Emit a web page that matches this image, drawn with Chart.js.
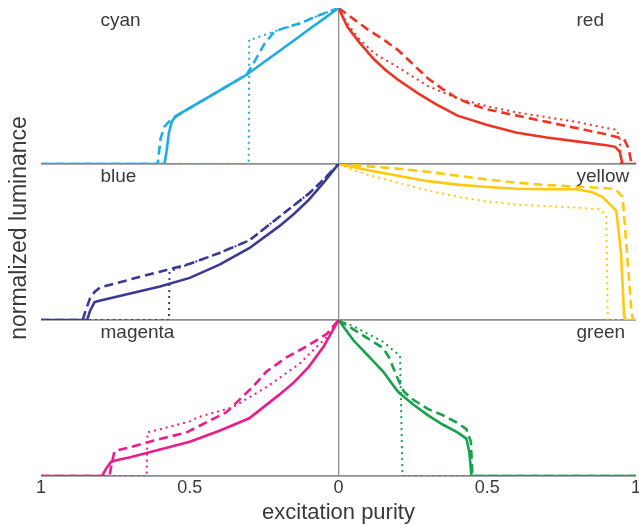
<!DOCTYPE html>
<html>
<head>
<meta charset="utf-8">
<script src="https://cdn.jsdelivr.net/npm/chart.js@4.4.0/dist/chart.umd.min.js"></script>
<style>
  body { margin: 0; background: #fff; }
  canvas { display: block; }
</style>
</head>
<body>
<canvas id="chart" width="639" height="525"></canvas>
<script>
// excitation purity (P) and normalized luminance (L) for each colour / line style
const cyanSolidP = [1, 0.585, 0.578, 0.57, 0.56, 0.545, 0.5, 0.45, 0.4, 0.35, 0.309, 0.25, 0.2, 0.15, 0.1, 0.05, 0];
const cyanSolidL = [0, 0, 0.08, 0.2, 0.275, 0.309, 0.359, 0.415, 0.47, 0.526, 0.572, 0.654, 0.723, 0.792, 0.862, 0.93, 1];
const cyanDashedP = [1, 0.608, 0.603, 0.598, 0.585, 0.561, 0.534, 0.45, 0.4, 0.35, 0.309, 0.282, 0.249, 0.215, 0.17, 0.131, 0.07, 0];
const cyanDashedL = [0, 0, 0.08, 0.164, 0.24, 0.29, 0.32, 0.415, 0.47, 0.526, 0.572, 0.658, 0.77, 0.85, 0.88, 0.9, 0.95, 1];
const cyanDottedP = [1, 0.302, 0.3, 0.29, 0.215, 0.131, 0.07, 0];
const cyanDottedL = [0, 0, 0.8, 0.8, 0.85, 0.9, 0.95, 1];

const redSolidP = [0, 0.03, 0.07, 0.12, 0.16, 0.2, 0.27, 0.33, 0.4, 0.5, 0.6, 0.7, 0.8, 0.9, 0.93, 0.945, 0.955, 1];
const redSolidL = [1, 0.88, 0.78, 0.67, 0.6, 0.54, 0.45, 0.38, 0.31, 0.25, 0.2, 0.17, 0.145, 0.12, 0.11, 0.08, 0, 0];
const redDashedP = [0, 0.05, 0.1, 0.15, 0.2, 0.25, 0.3, 0.35, 0.4, 0.45, 0.5, 0.6, 0.7, 0.8, 0.9, 0.96, 0.975, 0.985, 1];
const redDashedL = [1, 0.93, 0.86, 0.8, 0.73, 0.64, 0.55, 0.48, 0.42, 0.38, 0.35, 0.31, 0.27, 0.23, 0.19, 0.16, 0.1, 0, 0];
const redDottedP = [0, 0.03, 0.07, 0.12, 0.2, 0.3, 0.35, 0.4, 0.45, 0.5, 0.6, 0.7, 0.8, 0.9, 0.935, 0.945, 0.95, 1];
const redDottedL = [1, 0.9, 0.8, 0.71, 0.62, 0.5, 0.46, 0.42, 0.395, 0.37, 0.33, 0.3, 0.27, 0.23, 0.22, 0.16, 0, 0];

const blueSolidP = [1, 0.845, 0.835, 0.82, 0.8, 0.7, 0.6, 0.5, 0.4, 0.3, 0.2, 0.15, 0.1, 0.05, 0];
const blueSolidL = [0, 0, 0.06, 0.115, 0.125, 0.17, 0.215, 0.27, 0.355, 0.46, 0.6, 0.68, 0.77, 0.88, 1];
const blueDashedP = [1, 0.86, 0.85, 0.835, 0.82, 0.8, 0.7, 0.6, 0.5, 0.4, 0.3, 0.2, 0.1, 0.05, 0];
const blueDashedL = [0, 0, 0.06, 0.14, 0.18, 0.21, 0.26, 0.31, 0.36, 0.43, 0.51, 0.66, 0.81, 0.9, 1];
const blueDottedP = [1, 0.57, 0.568, 0.5, 0.4, 0.3, 0.2, 0.1, 0.05, 0];
const blueDottedL = [0, 0, 0.31, 0.36, 0.43, 0.51, 0.66, 0.81, 0.9, 1];

const yellowSolidP = [0, 0.1, 0.2, 0.3, 0.4, 0.5, 0.6, 0.7, 0.8, 0.85, 0.887, 0.934, 0.95, 0.96, 0.965, 1];
const yellowSolidL = [1, 0.96, 0.925, 0.89, 0.868, 0.853, 0.841, 0.838, 0.838, 0.82, 0.79, 0.7, 0.42, 0.03, 0, 0];
const yellowDashedP = [0, 0.1, 0.2, 0.3, 0.4, 0.5, 0.6, 0.7, 0.8, 0.9, 0.93, 0.955, 0.97, 0.985, 0.99, 1];
const yellowDashedL = [1, 0.985, 0.97, 0.95, 0.925, 0.9, 0.88, 0.865, 0.855, 0.845, 0.84, 0.79, 0.42, 0.05, 0, 0];
const yellowDottedP = [0, 0.05, 0.1, 0.2, 0.3, 0.4, 0.5, 0.6, 0.7, 0.8, 0.88, 0.9, 0.905, 1];
const yellowDottedL = [1, 0.96, 0.93, 0.88, 0.83, 0.79, 0.76, 0.74, 0.73, 0.72, 0.71, 0.66, 0, 0];

const magentaSolidP = [1, 0.795, 0.78, 0.765, 0.75, 0.7, 0.6, 0.5, 0.4, 0.3, 0.2, 0.15, 0.1, 0.05, 0];
const magentaSolidL = [0, 0, 0.05, 0.09, 0.1, 0.12, 0.17, 0.22, 0.29, 0.37, 0.52, 0.6, 0.7, 0.83, 1];
const magentaDashedP = [1, 0.77, 0.76, 0.753, 0.7, 0.635, 0.51, 0.376, 0.289, 0.242, 0.175, 0.108, 0.04, 0];
const magentaDashedL = [0, 0, 0.1, 0.16, 0.185, 0.22, 0.28, 0.41, 0.57, 0.67, 0.76, 0.83, 0.91, 1];
const magentaDottedP = [1, 0.645, 0.642, 0.6, 0.5, 0.467, 0.356, 0.242, 0.131, 0.04, 0];
const magentaDottedL = [0, 0, 0.28, 0.3, 0.35, 0.38, 0.44, 0.57, 0.72, 0.89, 1];

const greenSolidP = [0, 0.05, 0.1, 0.15, 0.2, 0.25, 0.3, 0.35, 0.4, 0.43, 0.44, 0.447, 1];
const greenSolidL = [1, 0.87, 0.77, 0.67, 0.54, 0.46, 0.39, 0.33, 0.28, 0.24, 0.15, 0, 0];
const greenDashedP = [0, 0.05, 0.1, 0.15, 0.17, 0.2, 0.22, 0.25, 0.3, 0.35, 0.4, 0.43, 0.445, 0.45, 1];
const greenDashedL = [1, 0.94, 0.88, 0.82, 0.76, 0.62, 0.54, 0.49, 0.43, 0.39, 0.34, 0.3, 0.22, 0, 0];
const greenDottedP = [0, 0.05, 0.1, 0.15, 0.2, 0.207, 0.215, 1];
const greenDottedL = [1, 0.96, 0.91, 0.86, 0.78, 0.77, 0, 0];

const xTicks = [-1, -0.5, 0, 0.5, 1];

// side -1 = left half (purity grows to the left), +1 = right half
const PANELS = [
  { name: 'cyan', side: -1, axis: 'yTop', color: '#1CADE4',
    lines: [[cyanSolidP, cyanSolidL], [cyanDashedP, cyanDashedL], [cyanDottedP, cyanDottedL]] },
  { name: 'red', side: 1, axis: 'yTop', color: '#EE3424',
    lines: [[redSolidP, redSolidL], [redDashedP, redDashedL], [redDottedP, redDottedL]] },
  { name: 'blue', side: -1, axis: 'yMid', color: '#3A3996',
    lines: [[blueSolidP, blueSolidL], [blueDashedP, blueDashedL], [blueDottedP, blueDottedL]] },
  { name: 'yellow', side: 1, axis: 'yMid', color: '#FFC90E',
    lines: [[yellowSolidP, yellowSolidL], [yellowDashedP, yellowDashedL], [yellowDottedP, yellowDottedL]] },
  { name: 'magenta', side: -1, axis: 'yBot', color: '#EC1C8C',
    lines: [[magentaSolidP, magentaSolidL], [magentaDashedP, magentaDashedL], [magentaDottedP, magentaDottedL]] },
  { name: 'green', side: 1, axis: 'yBot', color: '#14A24B',
    lines: [[greenSolidP, greenSolidL], [greenDashedP, greenDashedL], [greenDottedP, greenDottedL]] },
];

const STYLES = [
  { width: 2.6, dash: [] },
  { width: 2.6, dash: [9, 5] },
  { width: 2, dash: [2, 4] },
];

const GRAY = '#8e8e8e';
const TEXT = '#3a3a3a';
const FONT = '"Liberation Sans", Arial, sans-serif';

const datasets = [];
PANELS.forEach(panel => {
  panel.lines.forEach(([ps, ls], i) => {
    datasets.push({
      label: panel.name + ['', ' dashed', ' dotted'][i],
      data: ps.map((p, k) => ({ x: panel.side * p, y: ls[k] })),
      yAxisID: panel.axis,
      borderColor: panel.color,
      borderWidth: STYLES[i].width,
      borderDash: STYLES[i].dash,
      pointRadius: 0,
      tension: 0,
      fill: false,
    });
  });
});

// colour names inside each half-panel, plus the shared y title
const panelLabels = {
  id: 'panelLabels',
  afterDatasetsDraw(chart) {
    const ctx = chart.ctx;
    const xs = chart.scales.x;
    const area = chart.chartArea;
    ctx.save();
    ctx.font = '19px ' + FONT;
    ctx.fillStyle = TEXT;
    ctx.textAlign = 'left';
    ctx.textBaseline = 'middle';
    PANELS.forEach(p => {
      const ys = chart.scales[p.axis];
      ctx.fillText(p.name, xs.getPixelForValue(p.side * 0.8), ys.getPixelForValue(0.92));
    });
    ctx.translate(area.left - 21, (area.top + area.bottom) / 2 - 14);
    ctx.rotate(-Math.PI / 2);
    ctx.textAlign = 'center';
    ctx.font = '23px ' + FONT;
    ctx.fillText('normalized luminance', 0, 0);
    ctx.restore();
  }
};

function panelAxis() {
  return {
    type: 'linear',
    position: 'left',
    stack: 'panels',
    stackWeight: 1,
    min: 0,
    max: 1,
    ticks: { display: false, stepSize: 1 },
    border: { display: false },
    grid: {
      drawTicks: false,
      lineWidth: 1.8,
      color: c => c.tick.value === 0 ? GRAY : 'rgba(0,0,0,0)',
    },
  };
}

new Chart(document.getElementById('chart'), {
  type: 'line',
  data: { datasets },
  options: {
    responsive: false,
    animation: false,
    layout: { padding: { top: 8, left: 41, right: 0, bottom: 0 } },
    plugins: { legend: { display: false }, tooltip: { enabled: false } },
    scales: {
      x: {
        type: 'linear',
        min: -1,
        max: 1,
        afterBuildTicks: axis => { axis.ticks = xTicks.map(v => ({ value: v })); },
        afterFit: axis => { axis.paddingLeft = 0; axis.paddingRight = 3; },
        ticks: {
          autoSkip: false,
          maxRotation: 0,
          padding: 2,
          color: TEXT,
          font: { family: FONT, size: 18, lineHeight: 1.1 },
          callback: v => String(Math.abs(v)),
        },
        border: { display: false },
        grid: {
          drawTicks: false,
          lineWidth: 1.3,
          color: c => c.tick.value === 0 ? GRAY : 'rgba(0,0,0,0)',
        },
        title: {
          display: true,
          text: 'excitation purity',
          color: TEXT,
          font: { family: FONT, size: 22, lineHeight: 1.1 },
          padding: { top: 1, bottom: 0 },
        },
      },
      yBot: panelAxis(),
      yMid: panelAxis(),
      yTop: panelAxis(),
    },
  },
  plugins: [panelLabels],
});
</script>
</body>
</html>
